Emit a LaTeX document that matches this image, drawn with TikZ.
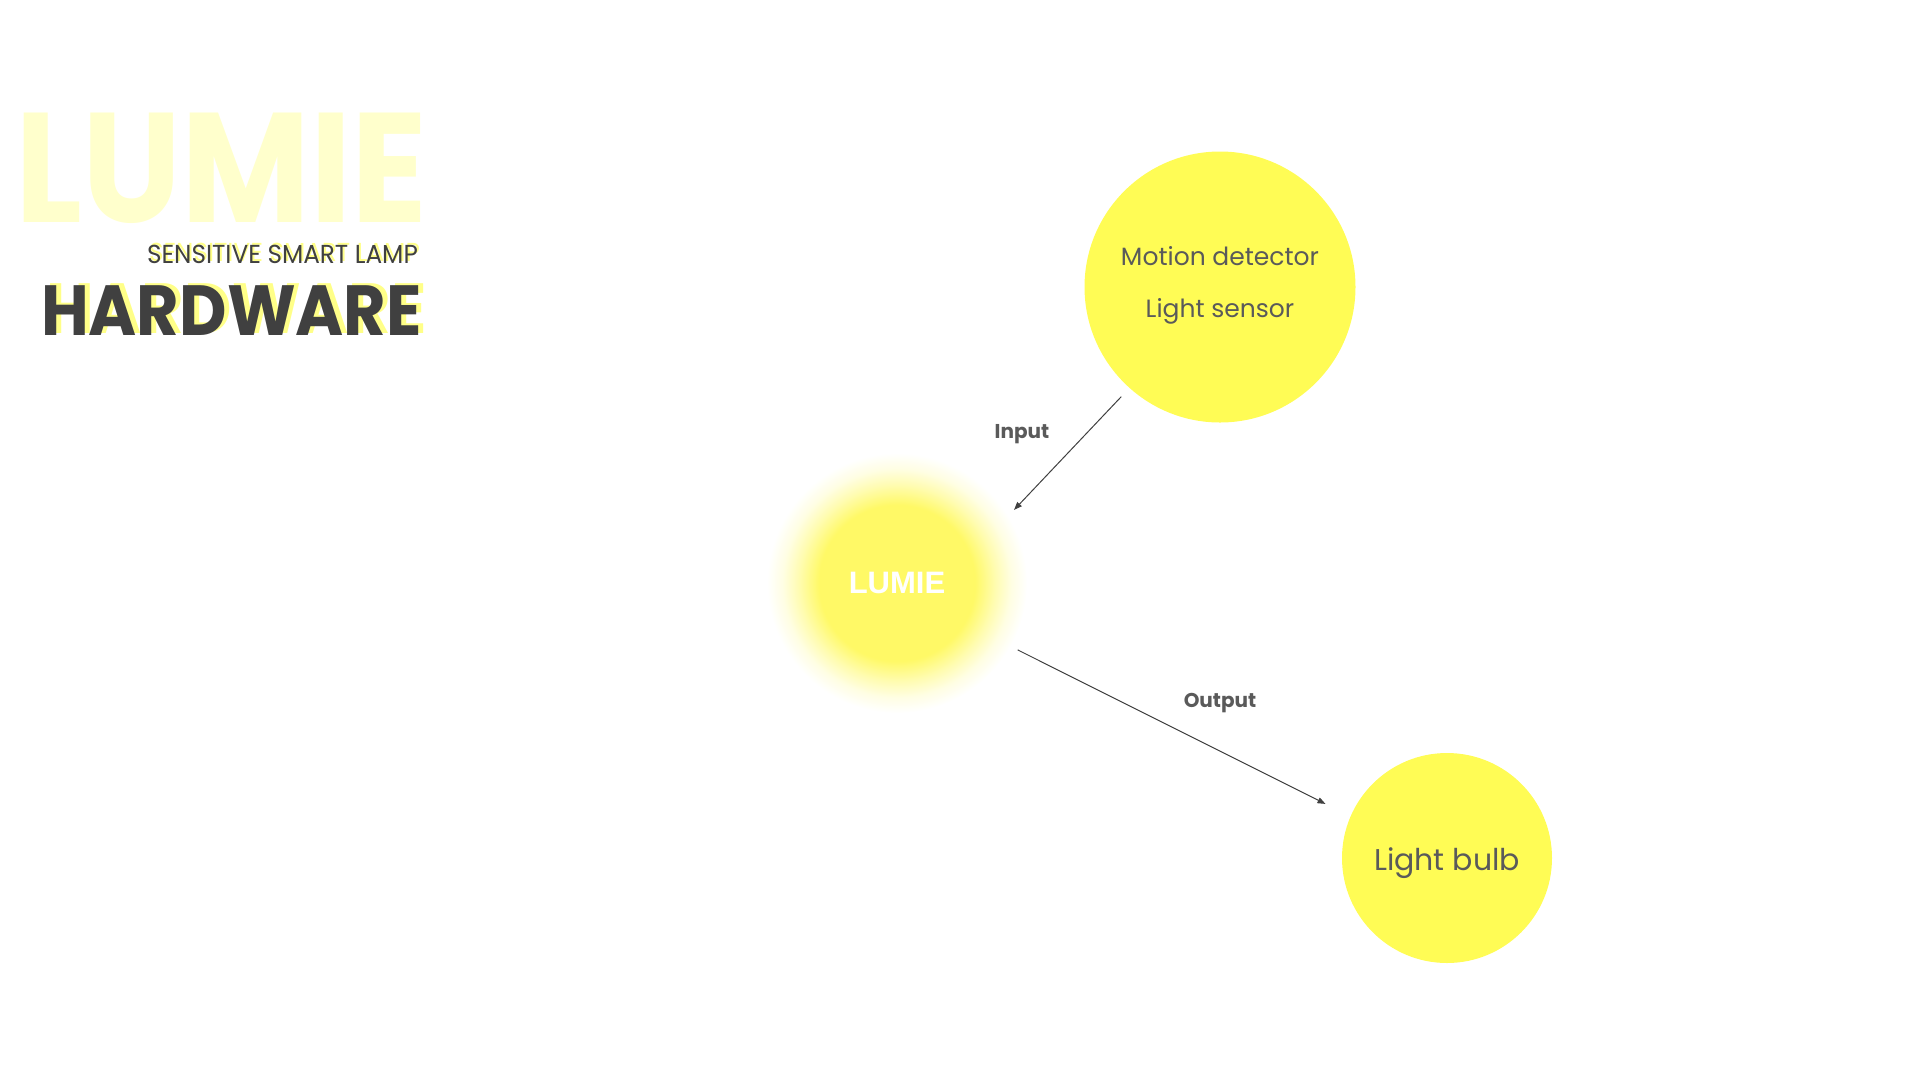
\documentclass[tikz,border=0pt]{standalone}
\usepackage{fontspec}
\setmainfont{Poppins}
\setsansfont{Liberation Sans}
\usetikzlibrary{arrows.meta}
\definecolor{bulbyellow}{HTML}{FFFC55}
\definecolor{glowyellow}{HTML}{FFF966}
\definecolor{palelumie}{HTML}{FFFFCC}
\definecolor{shadowyellow}{HTML}{FFFF88}
\definecolor{darktitle}{HTML}{404040}
\definecolor{labelgray}{HTML}{5A5A5A}
\pgfdeclareradialshading{lumieglow}{\pgfpoint{0bp}{0bp}}{color(0bp)=(glowyellow); color(15bp)=(glowyellow); color(19bp)=(glowyellow!50!white); color(22bp)=(glowyellow!18!white); color(25bp)=(white); color(50bp)=(white)}

\begin{document}
\begin{tikzpicture}[x=1pt,y=-1pt,
  bubble/.style={circle,fill=bulbyellow,inner sep=0pt},
  bubbletext/.style={text=labelgray,inner sep=0pt,anchor=base},
  flowlabel/.style={text=labelgray,font=\bfseries\fontsize{20}{24}\selectfont,inner sep=0pt,anchor=base},
  flow/.style={-{Triangle[length=8pt,width=6pt]},line width=1pt,draw=darktitle}]
  \useasboundingbox (0,0) rectangle (1920,1080);

  % Title
  \node[text=palelumie, font=\bfseries\fontsize{156}{160}\selectfont, inner sep=0pt, anchor=base east] (title) at (428,222) {\scalebox{0.9}[1]{LUMIE}};
  \node[text=shadowyellow, font=\fontsize{26}{30}\selectfont, inner sep=0pt, anchor=base east] (subshadow) at (420,261) {\scalebox{0.95}[1]{SENSITIVE SMART LAMP}};
  \node[text=darktitle, font=\fontsize{26}{30}\selectfont, inner sep=0pt, anchor=base east] (subtitle) at (418,263) {\scalebox{0.95}[1]{SENSITIVE SMART LAMP}};
  \node[text=shadowyellow, font=\bfseries\fontsize{71}{76}\selectfont, inner sep=0pt, anchor=base east] (hwshadow) at (427,333) {\scalebox{0.92}[1]{HARDWARE}};
  \node[text=darktitle, font=\bfseries\fontsize{71}{76}\selectfont, inner sep=0pt, anchor=base east] (hardware) at (422,335) {\scalebox{0.92}[1]{HARDWARE}};

  % Circles
  \node[bubble, minimum size=271pt, outer sep=12pt] (motion) at (1220,287) {};
  \node[bubbletext, font=\fontsize{25}{28}\selectfont] (motiontext) at (1220,265) {Motion detector};
  \node[bubbletext, font=\fontsize{25}{28}\selectfont] (sensortext) at (1220,317) {Light sensor};
  \node[circle, minimum size=260pt, inner sep=0pt, outer sep=8pt, shading=lumieglow, text=white, font=\sffamily\bfseries\fontsize{31}{36}\selectfont] (lumie) at (897,583) {LUMIE};
  \node[bubble, minimum size=210pt, outer sep=28pt] (bulb) at (1447,858) {};
  \node[bubbletext, font=\fontsize{30}{36}\selectfont] (bulbtext) at (1447,870) {Light bulb};

  % Connections
  \draw[flow] (motion.228.8) -- (lumie.32);
  \draw[flow] (lumie.-29.9) -- (bulb.156.5);
  \node[flowlabel] (inputlabel) at (1022,438) {Input};
  \node[flowlabel] (outputlabel) at (1220,707) {Output};
\end{tikzpicture}
\end{document}
